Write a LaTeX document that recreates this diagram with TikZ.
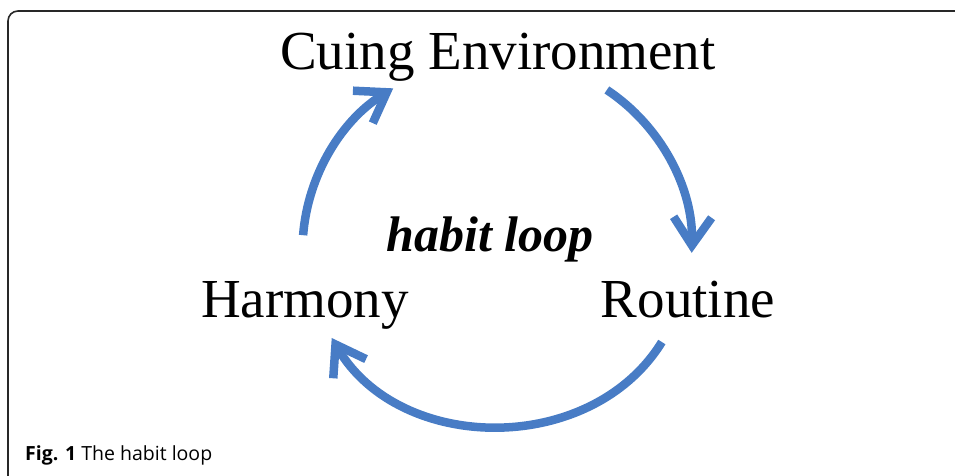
\documentclass[tikz,border=0pt]{standalone}
\usepackage{xcolor}
\usepackage{fontspec}
\setmainfont{Liberation Serif}
\newfontfamily\capfont{Open Sans}
\usetikzlibrary{arrows.meta}
\definecolor{loopblue}{RGB}{72,124,197}
\definecolor{framegray}{RGB}{40,40,40}

\begin{document}
\begin{tikzpicture}[x=1pt, y=1pt]
\tikzset{
  stage/.style={inner sep=0pt, anchor=base, font=\fontsize{55}{60}\selectfont},
  habitarrow/.style={line width=8.5pt, draw=loopblue, -{Straight Barb[length=28pt, width=38pt]}},
}
\useasboundingbox (-498,-234) rectangle (457,242);
\draw[framegray, line width=1.6pt, rounded corners=10pt] (-490,-240) -- (-490,231) -- (470,231);

\node[stage] at (0,172) (cue) {Cuing Environment};
\node[stage] at (-193,-75) (harm) {Harmony};
\node[stage] at (190,-75) (rout) {Routine};
\node[inner sep=0pt, anchor=base, font=\fontsize{50}{55}\selectfont\bfseries\itshape] at (-8,-10) (loop) {habit loop};
\node[inner sep=0pt, anchor=base west, font=\capfont\fontsize{19.5}{22}\selectfont] at (-473,-218) (cap) {\textbf{Fig. 1} The habit loop};

\coordinate (harm-out) at ({178}:195);
\coordinate (cue-in) at ({124.3}:186);
\coordinate (cue-out) at ({54.4}:187);
\coordinate (rout-in) at ({-3.2}:194);
\coordinate (rout-out) at ({-31.4}:192);
\coordinate (harm-in) at ({-150}:192);

\draw[habitarrow] (harm-out) to [bend left=27, looseness=0.9] (cue-in);
\draw[habitarrow] (cue-out) to [bend left=29, looseness=0.9] (rout-in);
\draw[habitarrow] (rout-out) to [bend left=59, looseness=1.04] (harm-in);

\end{tikzpicture}
\end{document}
